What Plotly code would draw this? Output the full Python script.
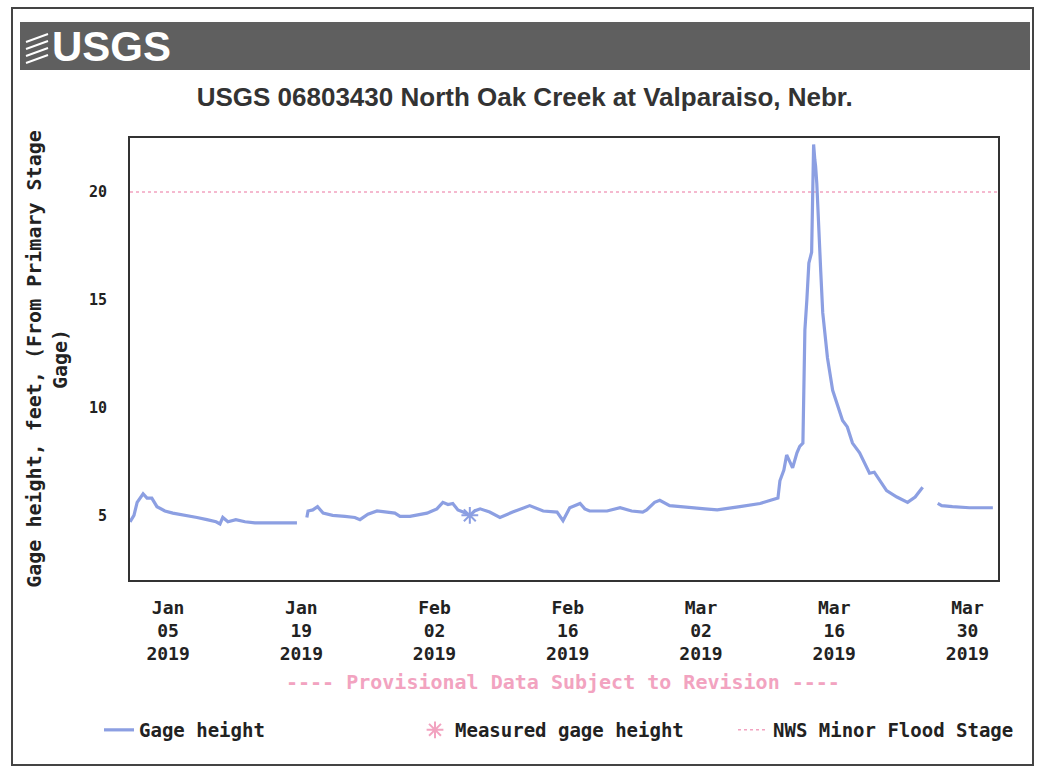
import plotly.graph_objects as go

# ---------------- data ----------------
gage_time = [
    "2019-01-01 00:00", "2019-01-01 10:00", "2019-01-01 18:00", "2019-01-02 09:00",
    "2019-01-02 19:00", "2019-01-03 07:00", "2019-01-03 20:00", "2019-01-04 16:00",
    "2019-01-05 12:00", "2019-01-07 00:00", "2019-01-08 01:00", "2019-01-09 02:00",
    "2019-01-10 01:00", "2019-01-10 11:00", "2019-01-10 18:00", "2019-01-11 07:00",
    "2019-01-12 03:00", "2019-01-13 02:00", "2019-01-14 03:00", "2019-01-16 05:00",
    "2019-01-18 13:00", "2019-01-19 00:00",
    "2019-01-19 14:00", "2019-01-19 17:00", "2019-01-20 05:00", "2019-01-20 17:00",
    "2019-01-21 07:00", "2019-01-22 07:00", "2019-01-23 14:00", "2019-01-24 15:00",
    "2019-01-25 04:00", "2019-01-26 00:00", "2019-01-26 23:00", "2019-01-28 00:00",
    "2019-01-28 20:00", "2019-01-29 09:00", "2019-01-30 10:00", "2019-02-01 05:00",
    "2019-02-02 06:00", "2019-02-02 21:00", "2019-02-03 10:00", "2019-02-03 22:00",
    "2019-02-04 11:00", "2019-02-05 00:00", "2019-02-05 17:00", "2019-02-06 05:00",
    "2019-02-06 19:00", "2019-02-07 19:00", "2019-02-08 21:00", "2019-02-10 05:00",
    "2019-02-12 00:00", "2019-02-13 10:00", "2019-02-14 21:00", "2019-02-15 12:00",
    "2019-02-16 05:00", "2019-02-17 07:00", "2019-02-17 19:00", "2019-02-18 07:00",
    "2019-02-20 03:00", "2019-02-21 12:00", "2019-02-22 17:00", "2019-02-23 21:00",
    "2019-02-24 07:00", "2019-02-25 03:00", "2019-02-25 16:00", "2019-02-26 17:00",
    "2019-02-28 19:00", "2019-03-02 10:00", "2019-03-03 17:00", "2019-03-05 00:00",
    "2019-03-06 02:00", "2019-03-08 05:00", "2019-03-09 12:00", "2019-03-10 02:00",
    "2019-03-10 07:00", "2019-03-10 17:00", "2019-03-11 00:00", "2019-03-11 15:00",
    "2019-03-12 02:00", "2019-03-12 09:00", "2019-03-12 17:00", "2019-03-12 22:00",
    "2019-03-13 03:00", "2019-03-13 08:00", "2019-03-13 15:00", "2019-03-13 18:00",
    "2019-03-13 20:00", "2019-03-13 23:00", "2019-03-14 01:00", "2019-03-14 04:00",
    "2019-03-14 07:00", "2019-03-14 14:00", "2019-03-14 19:00", "2019-03-15 07:00",
    "2019-03-15 20:00", "2019-03-16 21:00", "2019-03-17 09:00", "2019-03-17 22:00",
    "2019-03-18 16:00", "2019-03-19 17:00", "2019-03-20 05:00", "2019-03-21 12:00",
    "2019-03-22 14:00", "2019-03-23 17:00", "2019-03-24 12:00", "2019-03-25 00:00",
    "2019-03-25 07:00", "2019-03-26 00:00",
    "2019-03-26 21:00", "2019-03-27 07:00", "2019-03-28 10:00", "2019-03-30 05:00",
    "2019-04-01 16:00",
]
gage_height = [
    4.7, 5.0, 5.6, 6.0,
    5.8, 5.8, 5.4, 5.2,
    5.1, 5.0, 4.9, 4.8,
    4.7, 4.6, 4.9, 4.7,
    4.8, 4.7, 4.65, 4.65,
    4.65, None,
    4.9, 5.2, 5.25, 5.4,
    5.1, 5.0, 4.95, 4.9,
    4.8, 5.05, 5.2, 5.15,
    5.1, 4.95, 4.95, 5.1,
    5.3, 5.6, 5.5, 5.55,
    5.25, 5.15, 5.0, 5.2,
    5.3, 5.15, 4.9, 5.15,
    5.45, 5.2, 5.15, 4.75,
    5.35, 5.55, 5.3, 5.2,
    5.2, 5.35, 5.2, 5.15,
    5.25, 5.6, 5.7, 5.45,
    5.35, 5.3, 5.25, 5.35,
    5.4, 5.55, 5.7, 5.8,
    6.6, 7.1, 7.8, 7.2,
    7.9, 8.2, 8.35, 13.6,
    15.0, 16.7, 17.2, 19.8,
    22.2, 21.5, 21.2, 20.4,
    18.9, 16.3, 14.4, 12.3,
    10.8, 9.4, 9.1, 8.35,
    7.9, 6.95, 7.0, 6.15,
    5.85, 5.6, 5.85, 6.15,
    6.3, None,
    5.55, 5.45, 5.4, 5.35,
    5.35,
]

measured_time = ["2019-02-05 17:00"]
measured_height = [5.0]

flood_stage_time = ["2019-01-01 00:00", "2019-04-02 05:00"]
flood_stage_height = [20.0, 20.0]

tick_dates = ["2019-01-05", "2019-01-19", "2019-02-02", "2019-02-16",
              "2019-03-02", "2019-03-16", "2019-03-30"]
tick_labels = ["Jan<br>05<br>2019", "Jan<br>19<br>2019", "Feb<br>02<br>2019",
               "Feb<br>16<br>2019", "Mar<br>02<br>2019", "Mar<br>16<br>2019",
               "Mar<br>30<br>2019"]
y_ticks = [5, 10, 15, 20]

# ---------------- styling ----------------
MONO = "DejaVu Sans Mono"
NARROW = "Liberation Sans Narrow, Arial Narrow, Liberation Sans, Arial"
BLUE = "#8c9fe2"
PINK = "#f2a3c0"

# plot area in pixels: x 130..998, y 138..580
L, R, T, B = 130, 998, 138, 580
W, H = 1037, 771
pw, ph = R - L, B - T


def px(xp):
    return (xp - L) / pw


def py(yp):
    return (B - yp) / ph


fig = go.Figure()

fig.add_trace(go.Scatter(
    x=flood_stage_time, y=flood_stage_height, mode="lines",
    line=dict(color=PINK, width=1.5, dash="dot"),
    name="NWS Minor Flood Stage", legend="legend3",
))
fig.add_trace(go.Scatter(
    x=gage_time, y=gage_height, mode="lines", connectgaps=False,
    line=dict(color=BLUE, width=3.2),
    name="Gage height", legend="legend",
))
fig.add_trace(go.Scatter(
    x=measured_time, y=measured_height, mode="markers",
    marker=dict(symbol="asterisk-open", size=14, color=BLUE,
                line=dict(color=BLUE, width=2)),
    name="Measured gage height", showlegend=False,
))
fig.add_trace(go.Scatter(
    x=[None], y=[None], mode="markers",
    marker=dict(symbol="asterisk-open", size=14, color=PINK,
                line=dict(color=PINK, width=2)),
    name="Measured gage height", legend="legend2",
))

shapes = [
    # page frame
    dict(type="rect", xref="paper", yref="paper",
         x0=px(12), x1=px(1033), y0=py(765), y1=py(8),
         line=dict(color="#444444", width=2), fillcolor="rgba(0,0,0,0)", layer="below"),
    # USGS banner
    dict(type="rect", xref="paper", yref="paper",
         x0=px(20), x1=px(1030), y0=py(70), y1=py(22),
         line=dict(width=0), fillcolor="#5f5f5f", layer="below"),
]
# little logo waves
for k in range(4):
    y0 = 34 + k * 7
    shapes.append(dict(type="line", xref="paper", yref="paper",
                       x0=px(26), y0=py(y0 + 8), x1=px(48), y1=py(y0),
                       line=dict(color="white", width=2)))

annotations = [
    dict(text="<b>USGS</b>", xref="paper", yref="paper", x=px(50), y=py(46),
         xanchor="left", yanchor="middle", showarrow=False,
         font=dict(family=NARROW, size=42, color="white")),
    dict(text="---- Provisional Data Subject to Revision ----", xref="paper", yref="paper",
         x=px(563), y=py(682), xanchor="center", yanchor="middle", showarrow=False,
         font=dict(family=MONO, size=20, color=PINK, weight="bold")),
]

legend_font = dict(family=MONO, size=19, color="#222222", weight="bold")


def legend_at(xpix):
    return dict(orientation="h", x=px(xpix), y=py(730), xanchor="left", yanchor="middle",
                font=legend_font, bgcolor="rgba(0,0,0,0)")


fig.update_layout(
    width=W, height=H,
    margin=dict(l=L, r=W - R, t=T, b=H - B),
    paper_bgcolor="white", plot_bgcolor="white",
    title=dict(text="USGS 06803430 North Oak Creek at Valparaiso, Nebr.",
               xref="container", yref="container", x=0.506, y=1 - 97 / H,
               xanchor="center", yanchor="middle",
               font=dict(family=NARROW, size=26, color="#333333", weight="bold")),
    xaxis=dict(
        type="date", range=["2019-01-01 00:00", "2019-04-02 05:00"],
        tickvals=tick_dates, ticktext=tick_labels, ticks="",
        ticklabelstandoff=10,
        tickfont=dict(family=MONO, size=18, color="#222222", weight="bold"),
        showgrid=False, zeroline=False,
        showline=True, mirror=True, linecolor="#333333", linewidth=2,
    ),
    yaxis=dict(
        range=[2.0, 22.5], tickvals=y_ticks, ticks="",
        ticklabelstandoff=18,
        tickfont=dict(family=MONO, size=15, color="#222222", weight="bold"),
        showgrid=False, zeroline=False,
        showline=True, mirror=True, linecolor="#333333", linewidth=2,
        title=dict(text="Gage height, feet, (From Primary Stage<br>Gage)",
                   standoff=16,
                   font=dict(family=MONO, size=20, color="#222222", weight="bold")),
    ),
    legend=legend_at(99),
    legend2=legend_at(415),
    legend3=legend_at(733),
    shapes=shapes,
    annotations=annotations,
    showlegend=True,
)

fig.write_html("out.html", post_script="document.body.style.margin='0';",
               config={"displayModeBar": False})
